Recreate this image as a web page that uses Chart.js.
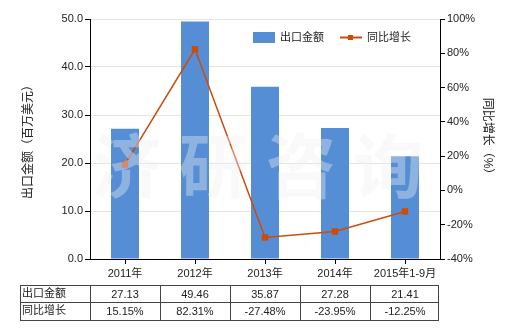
<!DOCTYPE html>
<html>
<head>
<meta charset="utf-8">
<script src="https://cdn.jsdelivr.net/npm/chart.js@4.4.1/dist/chart.umd.min.js"></script>
<style>
  html, body { margin: 0; padding: 0; background: #fff; }
  #wrap { width: 520px; height: 330px; }
</style>
</head>
<body>
<div id="wrap"><canvas id="myChart" width="520" height="330"></canvas></div>
<script>
const categories = ["2011年", "2012年", "2013年", "2014年", "2015年1-9月"];
const exportValues = [27.13, 49.46, 35.87, 27.28, 21.41];
const growthValues = [15.15, 82.31, -27.48, -23.95, -12.25];
const seriesNames = ["出口金额", "同比增长"];
const leftTitle = "出口金额（百万美元）";
const rightTitle = "同比增长（%）";
const watermark = "济研咨询";

const FONT = "'Liberation Sans', 'Noto Sans CJK SC', sans-serif";
const BAR_COLOR = "rgb(85,142,213)";
const LINE_COLOR = "rgb(204,76,10)";

// legend, data table and watermark drawn by hand
const extras = {
  id: "extras",
  afterDatasetsDraw(chart) {
    const c = chart.ctx;
    c.save();
    c.fillStyle = "rgba(240,240,243,0.38)";
    c.font = "bold 70px 'Noto Sans CJK SC'";
    c.textAlign = "center";
    c.textBaseline = "middle";
    Array.from(watermark).forEach((ch, i) => {
      c.fillText(ch, 127 + i * 87, 166);
    });
    c.restore();
  },
  afterDraw(chart) {
    const c = chart.ctx;
    const x = chart.scales.x;
    c.save();
    // legend
    c.fillStyle = BAR_COLOR;
    c.fillRect(253, 32, 22, 11);
    c.font = "11px " + FONT;
    c.fillStyle = "#222";
    c.textBaseline = "middle";
    c.textAlign = "left";
    c.fillText(seriesNames[0], 280, 38);
    c.strokeStyle = LINE_COLOR;
    c.lineWidth = 2;
    c.beginPath();
    c.moveTo(340, 37.5);
    c.lineTo(362, 37.5);
    c.stroke();
    c.fillStyle = LINE_COLOR;
    c.fillRect(348, 35, 5, 5);
    c.fillStyle = "#222";
    c.fillText(seriesNames[1], 367, 38);

    // data table
    const half = (x.getPixelForValue(1) - x.getPixelForValue(0)) / 2;
    const tLeft = 20, rowTops = [285, 302, 320];
    const edges = [tLeft, x.getPixelForValue(0) - half];
    categories.forEach((_, i) => edges.push(x.getPixelForValue(i) + half - (i === categories.length - 1 ? 2 : 0)));
    c.strokeStyle = "#444";
    c.lineWidth = 1;
    c.beginPath();
    rowTops.forEach(y => {
      c.moveTo(tLeft, y + 0.5);
      c.lineTo(edges[edges.length - 1] + 0.5, y + 0.5);
    });
    edges.forEach(ex => {
      const px = Math.round(ex) + 0.5;
      c.moveTo(px, rowTops[0]);
      c.lineTo(px, rowTops[2] + 1);
    });
    c.stroke();
    c.fillStyle = "#222";
    c.font = "11px " + FONT;
    c.textAlign = "left";
    c.fillText(seriesNames[0], 22, 294);
    c.fillText(seriesNames[1], 22, 311);
    c.textAlign = "center";
    categories.forEach((_, i) => {
      const cx = x.getPixelForValue(i);
      c.fillText(exportValues[i].toFixed(2), cx, 295);
      c.fillText(growthValues[i].toFixed(2) + "%", cx, 312);
    });
    c.restore();
  }
};

const ctx = document.getElementById("myChart");
new Chart(ctx, {
  data: {
    labels: categories,
    datasets: [
      {
        type: "line",
        label: seriesNames[1],
        data: growthValues,
        yAxisID: "y1",
        borderColor: LINE_COLOR,
        backgroundColor: LINE_COLOR,
        borderWidth: 1.5,
        pointStyle: "rect",
        pointRadius: 3.5,
        pointHoverRadius: 3.5,
        tension: 0,
        order: 1,
      },
      {
        type: "bar",
        label: seriesNames[0],
        data: exportValues,
        yAxisID: "y",
        backgroundColor: BAR_COLOR,
        barPercentage: 0.4,
        categoryPercentage: 1,
        order: 2,
      },
    ],
  },
  options: {
    responsive: false,
    animation: false,
    layout: { padding: { top: 19, bottom: 45, left: 0, right: 0 } },
    plugins: { legend: { display: false }, tooltip: { enabled: false } },
    scales: {
      x: {
        offset: true,
        grid: { offset: false, drawOnChartArea: false, tickLength: 5, color: "#000" },
        border: { color: "#000", width: 1 },
        ticks: { color: "#222", font: { size: 11, family: FONT }, padding: 3, maxRotation: 0 },
        afterFit(s) { s.height = 26; },
      },
      y: {
        position: "left",
        min: 0,
        max: 50,
        ticks: {
          stepSize: 10,
          color: "#222",
          font: { size: 11, family: FONT },
          padding: 2,
          callback: v => v.toFixed(1),
        },
        grid: { color: "#e4e4e4", tickLength: 5, tickColor: "#000" },
        border: { color: "#000", width: 1 },
        title: {
          display: true,
          text: leftTitle,
          color: "#222",
          font: { size: 12, family: FONT },
          padding: { top: 21 },
        },
        afterFit(s) { s.width = 90; },
      },
      y1: {
        position: "right",
        min: -40,
        max: 100,
        ticks: {
          stepSize: 20,
          color: "#222",
          font: { size: 11, family: FONT },
          padding: 2,
          callback: v => v + "%",
        },
        grid: { drawOnChartArea: false, tickLength: 5, color: "#000" },
        border: { color: "#000", width: 1 },
        title: {
          display: true,
          text: rightTitle,
          color: "#222",
          font: { size: 12, family: FONT },
          padding: { top: 25 },
        },
        afterFit(s) { s.width = 80; },
      },
    },
  },
  plugins: [extras],
});
</script>
</body>
</html>
